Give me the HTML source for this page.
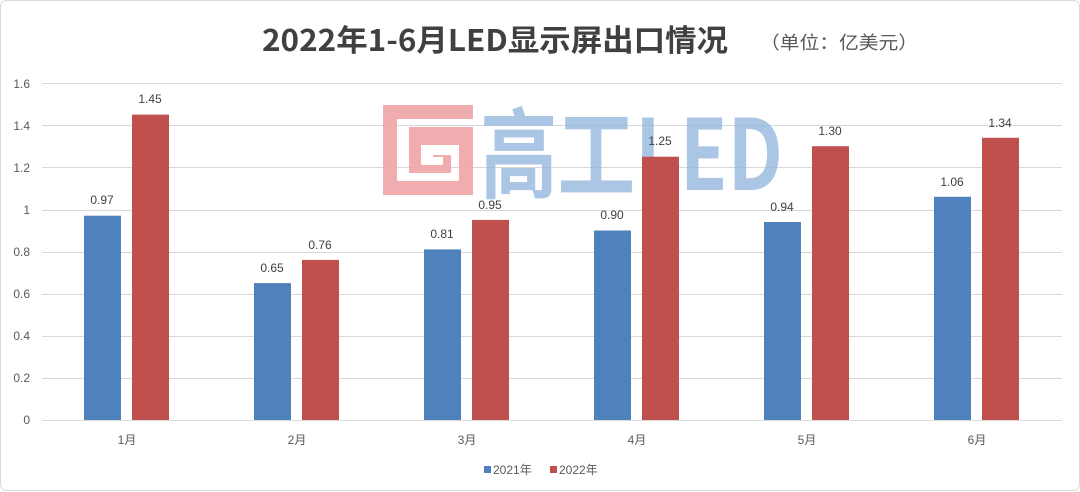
<!DOCTYPE html>
<html><head><meta charset="utf-8"><style>
html,body{margin:0;padding:0;background:#fff}
svg{display:block;font-family:"Liberation Sans","Noto Sans CJK SC",sans-serif}
</style></head><body>
<svg width="1080" height="492" viewBox="0 0 1080 492" xmlns="http://www.w3.org/2000/svg">
<rect x="0.5" y="0.5" width="1079" height="490" rx="6" fill="#fff" stroke="#d9d9d9"/>
<text x="262" y="51" font-size="30" font-weight="bold" fill="#404040" textLength="466" lengthAdjust="spacingAndGlyphs" font-family="'Noto Sans CJK SC',sans-serif">2022年1-6月LED显示屏出口情况</text>
<text x="760" y="49" font-size="18" fill="#595959" textLength="158" lengthAdjust="spacingAndGlyphs" font-family="'Noto Sans CJK SC',sans-serif">（单位：亿美元）</text>
<g stroke="#d9d9d9" stroke-width="1">
<line x1="42" y1="83.5" x2="1062" y2="83.5"/>
<line x1="42" y1="125.5" x2="1062" y2="125.5"/>
<line x1="42" y1="167.5" x2="1062" y2="167.5"/>
<line x1="42" y1="210.5" x2="1062" y2="210.5"/>
<line x1="42" y1="252.5" x2="1062" y2="252.5"/>
<line x1="42" y1="294.5" x2="1062" y2="294.5"/>
<line x1="42" y1="336.5" x2="1062" y2="336.5"/>
<line x1="42" y1="378.5" x2="1062" y2="378.5"/>
</g>
<g font-size="12" fill="#595959" text-anchor="end">
<text x="30" y="88">1.6</text><text x="30" y="130">1.4</text><text x="30" y="172">1.2</text>
<text x="30" y="214">1</text><text x="30" y="256">0.8</text><text x="30" y="298">0.6</text>
<text x="30" y="340">0.4</text><text x="30" y="382">0.2</text><text x="30" y="424">0</text>
</g>
<g fill="#f0a8ac" opacity="0.95">
<path d="M383 105 H473 V195 H383 Z M397 119 V181 H459 V145 H421 V165 H443 V157 H433 V155 H451 V173 H409 V127 H473 V119 Z" fill-rule="evenodd"/>
</g>
<text x="480" y="190" font-size="98" font-weight="bold" fill="#8fb4dd" opacity="0.75" textLength="303" lengthAdjust="spacingAndGlyphs" font-family="'Noto Sans CJK SC',sans-serif">高工LED</text>
<g fill="#4f81bd">
<rect x="84" y="215.7" width="37" height="204.3"/>
<rect x="254" y="283.1" width="37" height="136.9"/>
<rect x="424" y="249.4" width="37" height="170.6"/>
<rect x="594" y="230.5" width="37" height="189.5"/>
<rect x="764" y="222" width="37" height="198"/>
<rect x="934" y="196.8" width="37" height="223.2"/>
</g>
<g fill="#c0504d">
<rect x="132" y="114.6" width="37" height="305.4"/>
<rect x="302" y="259.9" width="37" height="160.1"/>
<rect x="472" y="219.9" width="37" height="200.1"/>
<rect x="642" y="156.7" width="37" height="263.3"/>
<rect x="812" y="146.2" width="37" height="273.8"/>
<rect x="982" y="137.8" width="37" height="282.2"/>
</g>
<line x1="42" y1="420.5" x2="1062" y2="420.5" stroke="#d9d9d9"/>
<g font-size="12" fill="#404040" text-anchor="middle">
<text x="102" y="204">0.97</text><text x="150" y="103">1.45</text>
<text x="272" y="272">0.65</text><text x="320" y="249">0.76</text>
<text x="442" y="238">0.81</text><text x="490" y="209">0.95</text>
<text x="612" y="219">0.90</text><text x="660" y="145">1.25</text>
<text x="782" y="211">0.94</text><text x="830" y="135">1.30</text>
<text x="952" y="186">1.06</text><text x="1000" y="127">1.34</text>
</g>
<g font-size="12" fill="#595959" text-anchor="middle">
<text x="127" y="444">1月</text><text x="297" y="444">2月</text><text x="467" y="444">3月</text>
<text x="637" y="444">4月</text><text x="807" y="444">5月</text><text x="977" y="444">6月</text>
</g>
<rect x="484" y="466" width="7" height="7" fill="#4f81bd"/>
<text x="493" y="474" font-size="12" fill="#595959">2021年</text>
<rect x="550" y="466" width="7" height="7" fill="#c0504d"/>
<text x="559" y="474" font-size="12" fill="#595959">2022年</text>
</svg>
</body></html>
